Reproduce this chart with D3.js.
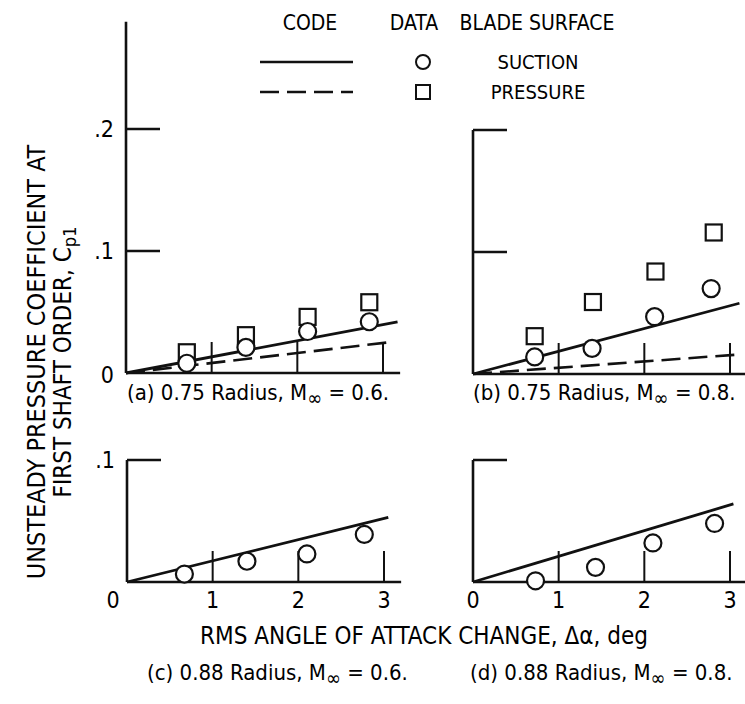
<!DOCTYPE html>
<html>
<head>
<meta charset="utf-8">
<script src="https://cdn.jsdelivr.net/npm/d3@7"></script>
<style>
	body { margin: 0; background: #fff; }
	svg { display: block; font-family: "Liberation Sans Narrow", "DejaVu Sans Condensed", sans-serif; }
	text { fill: #000; }
</style>
</head>
<body>
<svg width="745" height="704"></svg>
<script>
'use strict';
// values, one set per panel
let aPanels = ["a", "b", "c", "d"]
let aCaptions = ["(a) 0.75 Radius, M", "(b) 0.75 Radius, M", "(c) 0.88 Radius, M", "(d) 0.88 Radius, M"]
let aMach = ["0.6.", "0.8.", "0.6.", "0.8."]
let aYTop = [0.288, 0.2, 0.1, 0.1]
let aYTicks = [[0.1, 0.2], [0.1, 0.2], [0.1], [0.1]]
let aXTicks = [1, 2, 3]

let aSuctionX = [[0.71, 1.40, 2.12, 2.84], [0.72, 1.39, 2.12, 2.78], [0.67, 1.40, 2.10, 2.77], [0.73, 1.43, 2.10, 2.82]]
let aSuctionY = [[0.008, 0.021, 0.034, 0.042], [0.014, 0.021, 0.047, 0.070], [0.0065, 0.017, 0.023, 0.039], [0.001, 0.012, 0.032, 0.048]]
let aPressureX = [[0.71, 1.40, 2.12, 2.84], [0.72, 1.40, 2.13, 2.81], [], []]
let aPressureY = [[0.017, 0.031, 0.046, 0.058], [0.031, 0.059, 0.084, 0.116], [], []]
// code predictions are straight lines from the origin: [x end, y end]
let aCodeSuction = [[3.17, 0.042], [3.11, 0.058], [3.05, 0.053], [3.04, 0.064]]
let aCodePressure = [[3.05, 0.025], [3.11, 0.016], null, null]

// layout
let eSvg = d3.select("svg")
let dOrigins = { a: [126, 373], b: [473, 374], c: [127, 582], d: [473, 582] }
let sX = d3.scaleLinear().domain([0, 3]).range([0, 257])
let sY = d3.scaleLinear().domain([0, 0.1]).range([0, -122])
let dXEnd = 3.2

function drawPanel(sKey, i) {
	let [ox, oy] = dOrigins[sKey]
	let g = eSvg.append("g").attr("transform", `translate(${ox},${oy})`)

	// axes
	g.append("line").attr("x1", 0).attr("x2", 0).attr("y1", 0).attr("y2", sY(aYTop[i]))
		.attr("stroke", "#111").attr("stroke-width", 2.6)
	g.append("line").attr("x1", 0).attr("x2", sX(dXEnd)).attr("y1", 0).attr("y2", 0)
		.attr("stroke", "#111").attr("stroke-width", 2.6)
	g.selectAll(".ytick").data(aYTicks[i]).join("line")
		.attr("x1", 0).attr("x2", 34)
		.attr("y1", d => sY(d)).attr("y2", d => sY(d))
		.attr("stroke", "#111").attr("stroke-width", 2.4)
	g.selectAll(".xtick").data(aXTicks).join("line")
		.attr("x1", d => sX(d)).attr("x2", d => sX(d))
		.attr("y1", 0).attr("y2", -31)
		.attr("stroke", "#111").attr("stroke-width", 2)

	// tick labels only on the left column and the bottom row
	if (i % 2 === 0) {
		g.selectAll(".ylab").data(aYTicks[i]).join("text")
			.attr("x", -12).attr("y", d => sY(d)).attr("dy", "0.35em")
			.attr("text-anchor", "end").attr("font-size", 23)
			.text(d => d3.format(".1f")(d).replace(/^0/, ""))
	}
	if (i === 0) {
		g.append("text").attr("x", -12).attr("y", 2).attr("dy", "0.35em")
			.attr("text-anchor", "end").attr("font-size", 23).text("0")
	}
	if (i >= 2) {
		g.selectAll(".xlab").data([0].concat(aXTicks)).join("text")
			.attr("x", d => d === 0 && i === 2 ? -14 : sX(d)).attr("y", 26)
			.attr("text-anchor", "middle").attr("font-size", 23)
			.text(d => d)
	}

	// code lines
	let line = d3.line().x(d => sX(d[0])).y(d => sY(d[1]))
	g.append("path").datum([[0, 0], aCodeSuction[i]])
		.attr("d", line).attr("fill", "none").attr("stroke", "#111").attr("stroke-width", 2.8)
	if (aCodePressure[i]) {
		g.append("path").datum([[0, 0], aCodePressure[i]])
			.attr("d", line).attr("fill", "none").attr("stroke", "#111").attr("stroke-width", 2.6)
			.attr("stroke-dasharray", "19,8")
	}

	// data
	g.selectAll(".sq").data(d3.zip(aPressureX[i], aPressureY[i])).join("rect")
		.attr("x", d => sX(d[0]) - 8).attr("y", d => sY(d[1]) - 8)
		.attr("width", 16).attr("height", 16)
		.attr("fill", "#fff").attr("stroke", "#111").attr("stroke-width", 2.2)
	g.selectAll(".ci").data(d3.zip(aSuctionX[i], aSuctionY[i])).join("circle")
		.attr("cx", d => sX(d[0])).attr("cy", d => sY(d[1])).attr("r", 8.5)
		.attr("fill", "#fff").attr("stroke", "#111").attr("stroke-width", 2.2)
}

aPanels.forEach(drawPanel)

// panel captions
let dCaptionPos = { a: [127, 400], b: [473, 400], c: [147, 680], d: [470, 680] }
aPanels.forEach((k, i) => {
	let t = eSvg.append("text").attr("x", dCaptionPos[k][0]).attr("y", dCaptionPos[k][1])
		.attr("font-size", 22)
	t.append("tspan").text(aCaptions[i])
	t.append("tspan").attr("dy", 5).attr("font-size", 20).text("\u221e")
	t.append("tspan").attr("dy", -5).text(" = " + aMach[i])
})

// axis titles
eSvg.append("text").attr("x", 424).attr("y", 644).attr("text-anchor", "middle")
	.attr("font-size", 24).text("RMS ANGLE OF ATTACK CHANGE, \u0394\u03b1, deg")

let eYT = eSvg.append("g").attr("transform", "translate(0,362) rotate(-90)")
eYT.append("text").attr("x", 0).attr("y", 45).attr("text-anchor", "middle")
	.attr("font-size", 25).text("UNSTEADY PRESSURE COEFFICIENT AT")
let eYT2 = eYT.append("text").attr("x", 0).attr("y", 71).attr("text-anchor", "middle")
	.attr("font-size", 24)
eYT2.append("tspan").text("FIRST SHAFT ORDER, C")
eYT2.append("tspan").attr("dy", 5).attr("font-size", 18).text("p1")

// legend
let aLegendHead = [["CODE", 310], ["DATA", 414], ["BLADE SURFACE", 537]]
let aLegendRows = [["SUCTION", 62, null], ["PRESSURE", 92, "19,8"]]
eSvg.selectAll(".lh").data(aLegendHead).join("text")
	.attr("x", d => d[1]).attr("y", 30).attr("text-anchor", "middle")
	.attr("font-size", 21).text(d => d[0])
eSvg.selectAll(".ll").data(aLegendRows).join("line")
	.attr("x1", 260).attr("x2", 353).attr("y1", d => d[1]).attr("y2", d => d[1])
	.attr("stroke", "#111").attr("stroke-width", 2.6)
	.attr("stroke-dasharray", d => d[2])
eSvg.selectAll(".lt").data(aLegendRows).join("text")
	.attr("x", 538).attr("y", d => d[1]).attr("dy", "0.35em").attr("text-anchor", "middle")
	.attr("font-size", 20).text(d => d[0])
eSvg.append("circle").attr("cx", 423).attr("cy", 62).attr("r", 7)
	.attr("fill", "none").attr("stroke", "#111").attr("stroke-width", 2)
eSvg.append("rect").attr("x", 416).attr("y", 85).attr("width", 14).attr("height", 14)
	.attr("fill", "none").attr("stroke", "#111").attr("stroke-width", 2)
</script>
</body>
</html>
